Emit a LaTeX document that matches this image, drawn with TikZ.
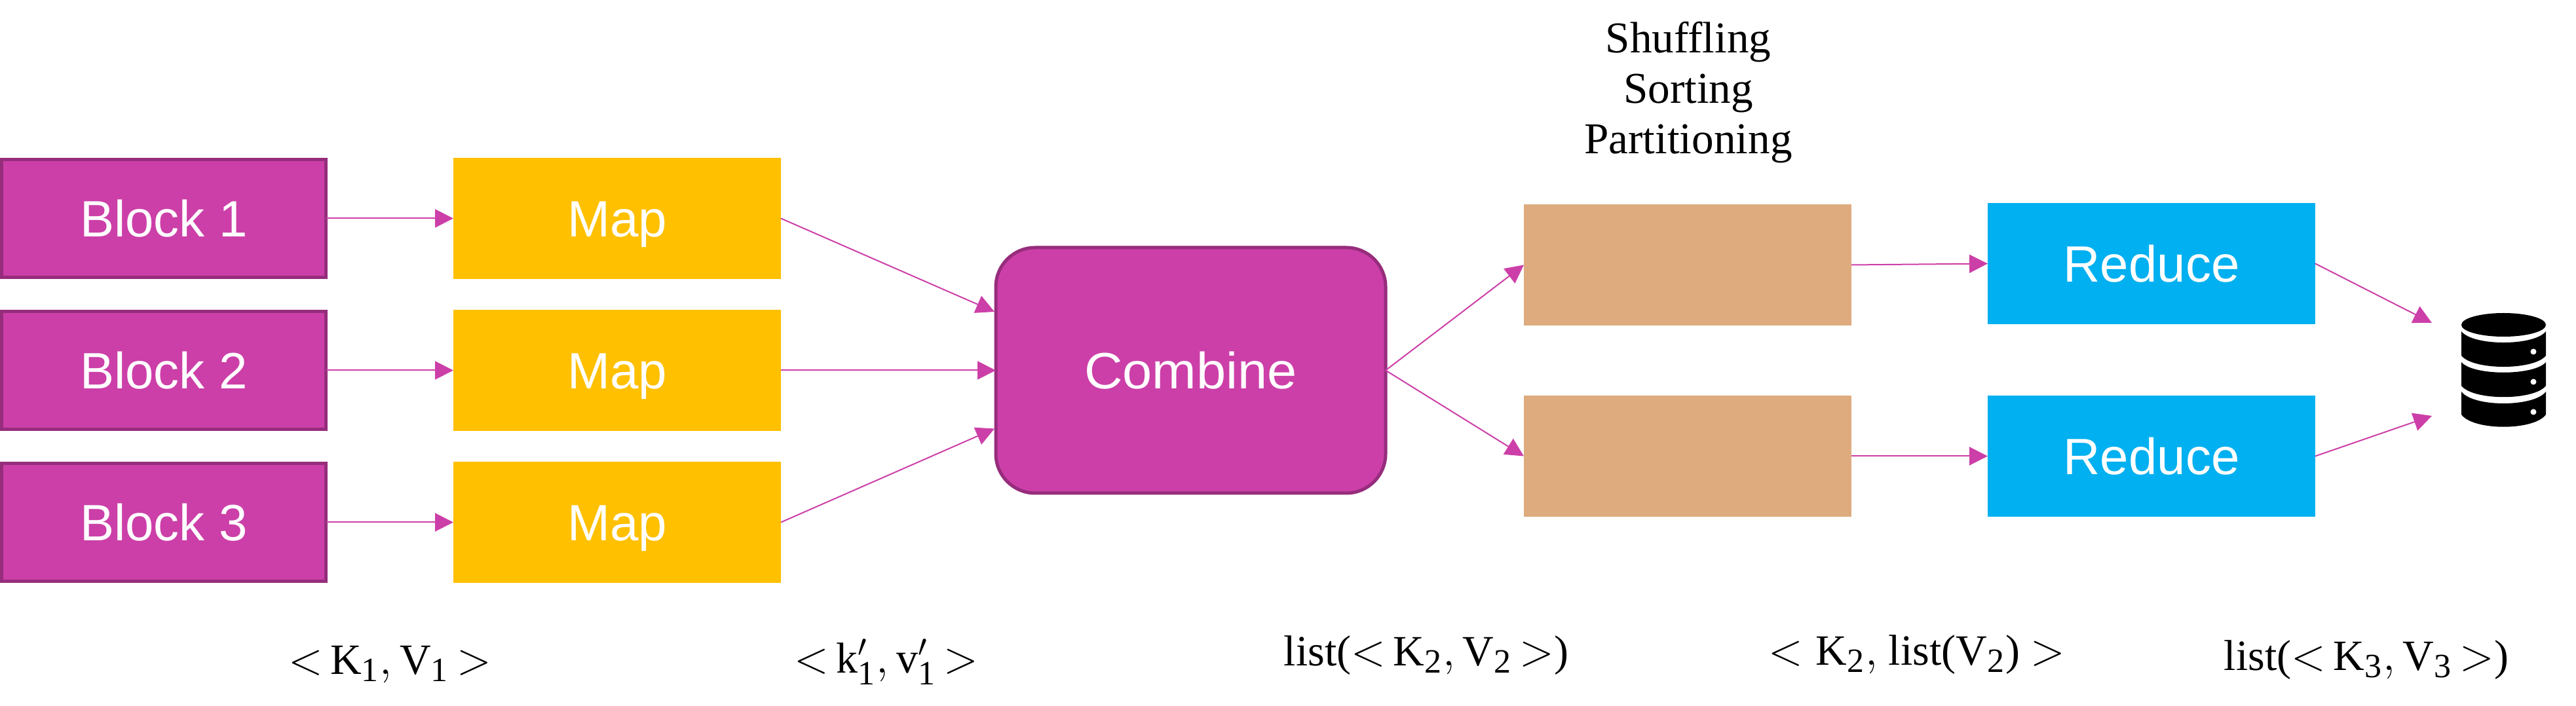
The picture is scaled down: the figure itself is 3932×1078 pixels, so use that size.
\documentclass[tikz,border=0pt]{standalone}
\usepackage{fontspec}
\setmainfont{Liberation Serif}
\newfontfamily\boxfont{Liberation Sans}
\usetikzlibrary{arrows.meta}
\newcommand\subn[1]{_{\mbox{\fontsize{13}{13}\selectfont #1}}}
\definecolor{blockfill}{HTML}{CC3FA8}
\definecolor{blockedge}{HTML}{962D7C}
\definecolor{mapfill}{HTML}{FFC000}
\definecolor{tanfill}{HTML}{DDAB7E}
\definecolor{redfill}{HTML}{00B0F0}
\tikzset{
  every node/.style={inner sep=0pt,outer sep=0pt},
  boxtext/.style={font=\boxfont\fontsize{19.5}{19.5}\selectfont,text=white,text height=13.8pt,text depth=0pt,align=center},
  blockbox/.style={boxtext,draw=blockedge,fill=blockfill,line width=1.25pt,minimum width=123.75pt,minimum height=45pt},
  mapbox/.style={boxtext,fill=mapfill,minimum width=125pt,minimum height=46.25pt},
  combinebox/.style={boxtext,draw=blockedge,fill=blockfill,line width=1.25pt,rounded corners=15pt,minimum width=148.75pt,minimum height=93.75pt},
  tanbox/.style={fill=tanfill,minimum width=125pt,minimum height=46.25pt},
  reducebox/.style={boxtext,fill=redfill,minimum width=125pt,minimum height=46.25pt},
  link/.style={draw=blockfill,line width=0.5pt,-{Triangle[length=7pt,width=7pt,fill=blockfill]}},
  kvlabel/.style={anchor=base,font=\fontsize{16.5}{16.5}\selectfont},
  titlelabel/.style={anchor=base,font=\fontsize{16.8}{16.8}\selectfont}
}
\begin{document}
\begin{tikzpicture}[x=0.25pt,y=-0.25pt]
\useasboundingbox (0,0) rectangle (3932,1078);
\node[blockbox] (b1) at (250,333.5) {Block 1};
\node[blockbox] (b2) at (250,565.5) {Block 2};
\node[blockbox] (b3) at (250,797.5) {Block 3};
\node[mapbox] (m1) at (942,333.5) {Map};
\node[mapbox] (m2) at (942,565.5) {Map};
\node[mapbox] (m3) at (942,797.5) {Map};
\node[combinebox] (c) at (1817.5,565.5) {\scalebox{1.04}[1]{Combine}};
\node[tanbox] (t1) at (2576,404.5) {};
\node[tanbox] (t2) at (2576,696.5) {};
\node[reducebox] (r1) at (3284,402.5) {Reduce};
\node[reducebox] (r2) at (3284,696.5) {Reduce};
\coordinate (c1) at (1518,476);
\coordinate (c3) at (1518,654.5);
\coordinate (d1) at (3712,493);
\coordinate (d2) at (3712,635);
\draw[link] (b1.east) -- (m1.west);
\draw[link] (b2.east) -- (m2.west);
\draw[link] (b3.east) -- (m3.west);
\draw[link] (m1.east) -- (c1);
\draw[link] (m2.east) -- (c.west);
\draw[link] (m3.east) -- (c3);
\draw[link] (c.east) -- (t1.west);
\draw[link] (c.east) -- (t2.west);
\draw[link] (t1.east) -- (r1.west);
\draw[link] (t2.east) -- (r2.west);
\draw[link] (r1.east) -- (d1);
\draw[link] (r2.east) -- (d2);
% database icon
\fill[black] (3821.5,496) ellipse [x radius=64.5,y radius=18];
\fill[black] (3757,506) .. controls (3775,528.7) and (3868,528.7) .. (3886,506) -- (3886,543) .. controls (3868,565.7) and (3775,565.7) .. (3757,543) -- cycle;
\fill[black] (3757,553) .. controls (3775,574) and (3868,574) .. (3886,553) -- (3886,589) .. controls (3868,612) and (3775,612) .. (3757,589) -- cycle;
\fill[black] (3757,598) .. controls (3775,622) and (3868,622) .. (3886,598) -- (3886,633) .. controls (3868,658) and (3775,658) .. (3757,633) -- cycle;
\fill[white] (3867,537) circle [radius=4.5];
\fill[white] (3867,583) circle [radius=4.5];
\fill[white] (3867,629) circle [radius=4.5];
% labels
\node[titlelabel] (s1) at (2577,81) {Shuffling};
\node[titlelabel] (s2) at (2577,158) {Sorting};
\node[titlelabel] (s3) at (2577,235) {Partitioning};
\node[kvlabel] (l1) at (595,1030) {${<}\,\mathrm{K}\subn{1},\mathrm{V}\subn{1}\,{>}$};
\node[kvlabel] (l2) at (1353,1028) {${<}\,\mathrm{k}'\subn{1},\mathrm{v}'\subn{1}\,{>}$};
\node[kvlabel] (l3) at (2177,1017) {list(${<}\,\mathrm{K}\subn{2},\mathrm{V}\subn{2}\,{>}$)};
\node[kvlabel] (l4) at (2926,1016) {${<}\;\mathrm{K}\subn{2},$ list($\mathrm{V}\subn{2}$) ${>}$};
\node[kvlabel] (l5) at (3612,1023.5) {list(${<}\,\mathrm{K}\subn{3},\mathrm{V}\subn{3}\,{>}$)};
\end{tikzpicture}
\end{document}
